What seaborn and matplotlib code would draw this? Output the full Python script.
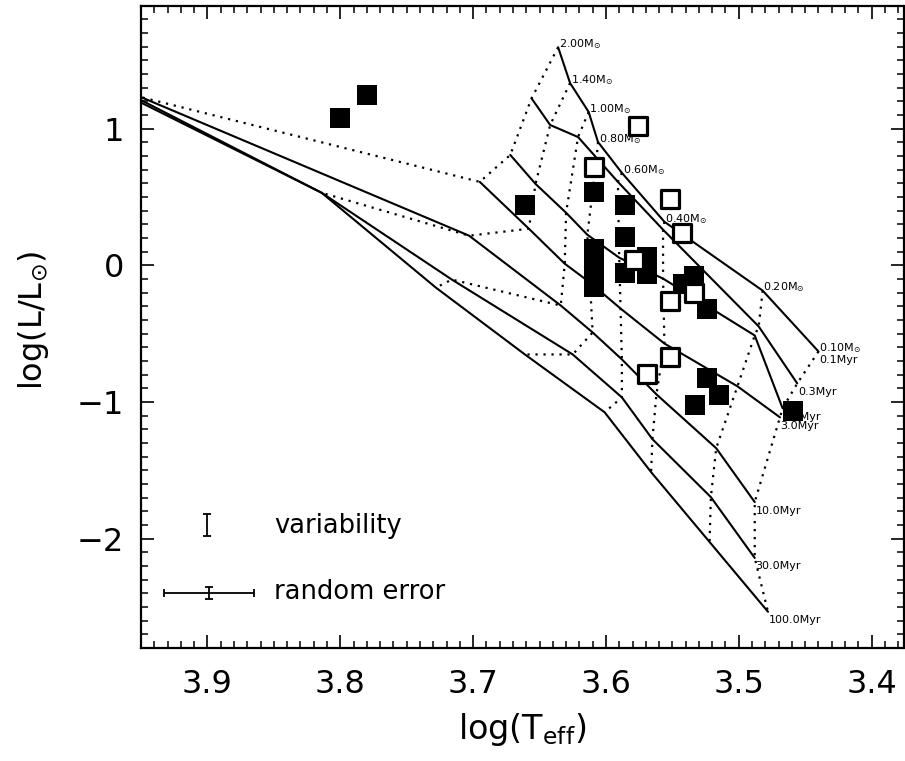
import numpy as np
import pandas as pd
import matplotlib
matplotlib.use("Agg")
import matplotlib.pyplot as plt
import seaborn as sns
from matplotlib.ticker import MultipleLocator, FixedLocator

# ---------------- data ----------------
ages = ["0.1Myr", "0.3Myr", "1.0Myr", "3.0Myr", "10.0Myr", "30.0Myr", "100.0Myr"]
masses = ["2.00", "1.40", "1.00", "0.80", "0.60", "0.40", "0.20", "0.10"]

# isochrone points (one value per mass, same order as `masses`)
logT_0p1 = [3.636, 3.627, 3.613, 3.606, 3.588, 3.556, 3.482, 3.440]
logL_0p1 = [1.596, 1.334, 1.122, 0.903, 0.677, 0.319, -0.185, -0.630]
logT_0p3 = [3.656, 3.642, 3.621, 3.607, 3.591, 3.557, 3.485, 3.456]
logL_0p3 = [1.222, 1.027, 0.939, 0.786, 0.611, 0.261, -0.447, -0.864]
logT_1 = [3.672, 3.653, 3.630, 3.614, 3.590, 3.557, 3.488, 3.467]
logL_1 = [0.808, 0.596, 0.385, 0.224, 0.056, -0.097, -0.513, -1.046]
logT_3 = [3.695, 3.658, 3.631, 3.612, 3.589, 3.556, 3.501, 3.469]
logL_3 = [0.611, 0.268, 0.012, -0.126, -0.316, -0.572, -0.885, -1.112]
logT_10 = [3.950, 3.703, 3.634, 3.610, 3.588, 3.562, 3.517, 3.488]
logL_10 = [1.231, 0.217, -0.294, -0.491, -0.688, -0.944, -1.338, -1.732]
logT_30 = [3.950, 3.814, 3.716, 3.625, 3.588, 3.565, 3.521, 3.488]
logL_30 = [1.209, 0.531, -0.104, -0.652, -0.966, -1.272, -1.696, -2.141]
logT_100 = [3.950, 3.814, 3.728, 3.661, 3.601, 3.566, 3.522, 3.478]
logL_100 = [1.191, 0.531, -0.163, -0.652, -1.075, -1.513, -2.024, -2.535]

# stars
filled_logT = [3.800, 3.780, 3.661, 3.609, 3.586, 3.586, 3.609, 3.609, 3.609, 3.609,
               3.586, 3.569, 3.569, 3.542, 3.534, 3.524, 3.524, 3.515, 3.533, 3.459]
filled_logL = [1.08, 1.25, 0.44, 0.54, 0.44, 0.21, 0.12, 0.02, -0.07, -0.16,
               -0.055, 0.064, -0.06, -0.14, -0.075, -0.316, -0.822, -0.951, -1.024, -1.066]
open_logT = [3.576, 3.609, 3.552, 3.543, 3.579, 3.552, 3.534, 3.552, 3.569]
open_logL = [1.02, 0.723, 0.487, 0.236, 0.036, -0.263, -0.201, -0.669, -0.793]

# error bar legend
var_x, var_y, var_yerr = [3.90], [-1.902], [0.08]
rand_x, rand_y, rand_xerr, rand_yerr = [3.899], [-2.397], [0.034], [0.042]

# ---------------- style ----------------
sns.set_theme(style="ticks")
plt.rcParams.update({
    "font.family": ["DejaVu Sans"],
    "mathtext.default": "regular",
    "axes.linewidth": 1.6,
    "axes.edgecolor": "black",
    "xtick.direction": "in", "ytick.direction": "in",
    "xtick.top": True, "ytick.right": True,
    "xtick.major.size": 9.5, "ytick.major.size": 9.5,
    "xtick.minor.size": 5, "ytick.minor.size": 5,
    "xtick.major.width": 1.2, "ytick.major.width": 1.2,
    "xtick.minor.width": 1.1, "ytick.minor.width": 1.1,
    "xtick.color": "black", "ytick.color": "black",
    "text.color": "black", "axes.labelcolor": "black",
})

fig = plt.figure(figsize=(9.05, 7.61), dpi=100)
ax = fig.add_axes([141 / 905, 1 - 648 / 761, (903.5 - 141) / 905, (648 - 5.7) / 761])

iso_T = [logT_0p1, logT_0p3, logT_1, logT_3, logT_10, logT_30, logT_100]
iso_L = [logL_0p1, logL_0p3, logL_1, logL_3, logL_10, logL_30, logL_100]
rows = []
for age, Ts, Ls in zip(ages, iso_T, iso_L):
    for m, t, l in zip(masses, Ts, Ls):
        rows.append({"age": age, "mass": m, "logT": t, "logL": l})
grid = pd.DataFrame(rows)

# isochrones (solid)
sns.lineplot(data=grid, x="logT", y="logL", units="age", estimator=None, sort=False,
             color="black", lw=1.5, ax=ax, zorder=2)
# mass tracks (dotted)
sns.lineplot(data=grid, x="logT", y="logL", units="mass", estimator=None, sort=False,
             color="black", lw=1.6, linestyle=(0, (1, 2.6)), ax=ax, zorder=2)

# labels
for m, t, l in zip(masses, logT_0p1, logL_0p1):
    ax.annotate(m + r"M$_{\odot}$", (t, l), xytext=(0.5, 0), textcoords="offset points",
                ha="left", va="baseline", fontsize=8, zorder=3)
for age, Ts, Ls in zip(ages, iso_T, iso_L):
    ax.annotate(age, (Ts[-1], Ls[-1]), xytext=(0.5, -2.5), textcoords="offset points",
                ha="left", va="top", fontsize=8, zorder=3)

# stars
sns.scatterplot(x=filled_logT, y=filled_logL, marker="s", s=14 ** 2, color="black",
                linewidth=0, ax=ax, zorder=4)
sns.scatterplot(x=open_logT, y=open_logL, marker="s", s=12.3 ** 2, color="white",
                edgecolor="black", linewidth=2.3, ax=ax, zorder=5)

# error legend
ax.errorbar(var_x, var_y, yerr=var_yerr, fmt="none", ecolor="black", elinewidth=1.3,
            capsize=3, capthick=1.3)
ax.errorbar(rand_x, rand_y, xerr=rand_xerr, yerr=rand_yerr, fmt="none", ecolor="black",
            elinewidth=1.3, capsize=3, capthick=1.3)
ax.text(3.85, -1.91, "variability", fontsize=18.5, ha="left", va="center")
ax.text(3.85, -2.39, "random error", fontsize=18.5, ha="left", va="center")

# axes
ax.set_xlim(3.95, 3.376)
ax.set_ylim(-2.8, 1.9)
ax.xaxis.set_major_locator(FixedLocator([3.9, 3.8, 3.7, 3.6, 3.5, 3.4]))
ax.xaxis.set_minor_locator(MultipleLocator(0.01))
ax.yaxis.set_major_locator(FixedLocator([-2, -1, 0, 1]))
ax.yaxis.set_minor_locator(MultipleLocator(0.1))
ax.set_xticklabels(["3.9", "3.8", "3.7", "3.6", "3.5", "3.4"])
ax.set_yticklabels(["\u22122", "\u22121", "0", "1"])
ax.tick_params(axis="x", which="major", labelsize=23, pad=15)
ax.tick_params(axis="y", which="major", labelsize=23, pad=12)
ax.set_xlabel(r"log(T$_{eff}$)", fontsize=24, labelpad=8)
ax.set_ylabel(r"log(L/L$_{\odot}$)", fontsize=23)
ax.yaxis.set_label_coords(-0.118, 0.51)
for s in ax.spines.values():
    s.set_visible(True)

fig.savefig("out.png", dpi=100)
